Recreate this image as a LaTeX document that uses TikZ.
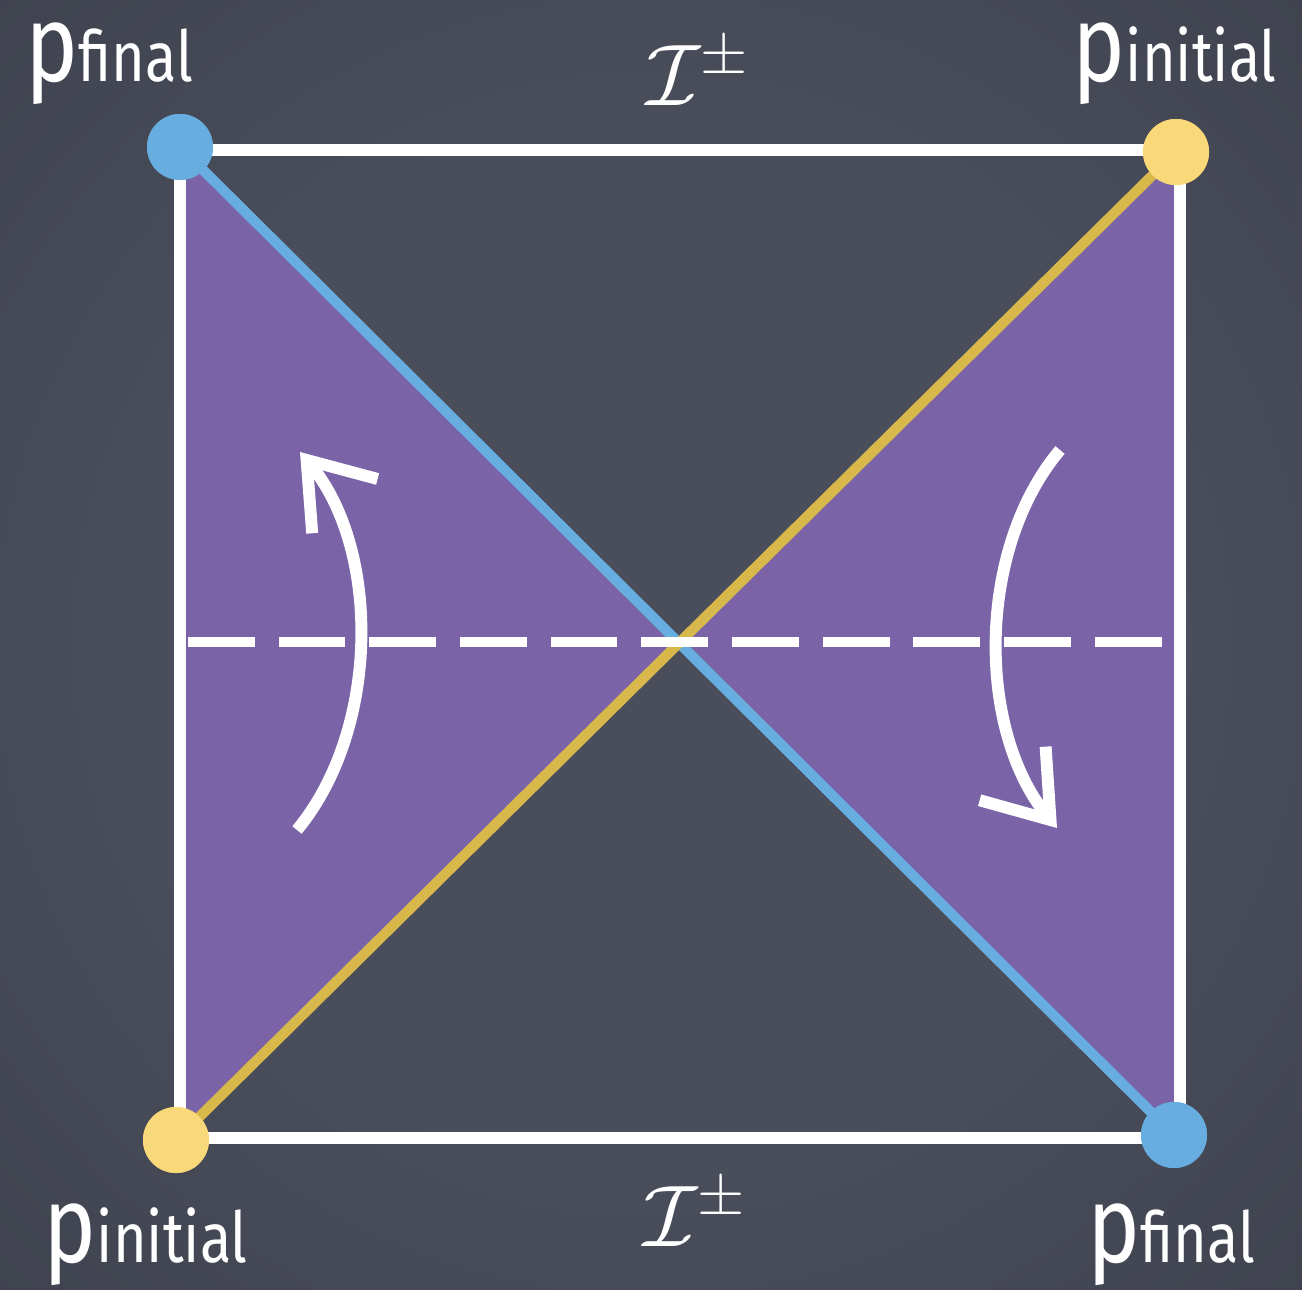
\documentclass[tikz,border=0pt]{standalone}
\usepackage{fontspec}
\newfontfamily\chalkfont[FakeStretch=0.82]{Fira Sans}
\usetikzlibrary{arrows.meta}
\definecolor{board}{HTML}{4A4E5B}
\definecolor{boardedge}{HTML}{363943}
\definecolor{boardcorner}{HTML}{2A2C33}
\definecolor{wedge}{HTML}{7A63A7}
\definecolor{nullblue}{HTML}{67ADE0}
\definecolor{nullyellow}{HTML}{D8B84B}
\definecolor{dotyellow}{HTML}{F8D878}
\pgfdeclareradialshading{boardshade}{\pgfpoint{0bp}{0bp}}{color(0bp)=(board); color(20bp)=(board); color(50bp)=(boardedge); color(71bp)=(boardcorner)}
\newcommand{\plab}[1]{{\chalkfont\fontsize{31}{31}\selectfont p}{\chalkfont\fontsize{20}{20}\selectfont #1}}

\begin{document}
\begin{tikzpicture}[
    chalk/.style={white, line width=3.4pt},
    nullray/.style={line width=2.9pt},
    blob/.style={circle, minimum size=6.6mm, inner sep=0pt},
    plabel/.style={text=white, inner sep=0pt, anchor=base west},
    scri/.style={text=white, inner sep=0pt, font=\fontsize{25}{30}\selectfont}
  ]
  \useasboundingbox (0,0) rectangle (13.02,12.89);

  % Board
  \shade[shading=boardshade] (0,0) rectangle (13.02,12.89);

  % Corners and crossing
  \coordinate (tl) at (1.80,11.39);
  \coordinate (tr) at (11.80,11.39);
  \coordinate (bl) at (1.80,1.51);
  \coordinate (br) at (11.80,1.51);
  \coordinate (x) at (6.80,6.47);

  % Wedges
  \fill[wedge] (1.83,11.39) -- (1.83,1.51) -- (x) -- cycle;
  \fill[wedge] (11.76,11.37) -- (11.76,1.54) -- (x) -- cycle;

  % Boundary
  \draw[chalk] (tl) -- (tr) -- (br) -- (bl) -- cycle;

  % Endpoints
  \node[blob, fill=nullblue] (ftop) at (1.80,11.42) {};
  \node[blob, fill=dotyellow] (itop) at (11.76,11.37) {};
  \node[blob, fill=dotyellow] (ibot) at (1.76,1.49) {};
  \node[blob, fill=nullblue] (fbot) at (11.74,1.54) {};

  % Null rays
  \draw[nullray, nullblue] (ftop.center) -- (fbot.center);
  \draw[nullray, nullyellow] (ibot.center) -- (itop.center);

  % Time slice
  \coordinate (sl) at (1.88,6.47);
  \coordinate (sr) at (11.72,6.47);
  \draw[white, line width=2.8pt, dash pattern=on 19pt off 6.8pt] (sl) -- (sr);

  % Flow arrows
  \draw[chalk, -{Straight Barb[length=6mm,width=8.5mm]}]
    (2.97,4.59) .. controls (3.805,5.6) and (3.805,7.4) .. (3.00,8.37);
  \draw[chalk, -{Straight Barb[length=6mm,width=8.5mm]}]
    (10.60,8.39) .. controls (9.765,7.4) and (9.765,5.6) .. (10.57,4.61);

  % Redraw dots on top
  \node[blob, fill=nullblue] at (ftop) {};
  \node[blob, fill=dotyellow] at (itop) {};
  \node[blob, fill=dotyellow] at (ibot) {};
  \node[blob, fill=nullblue] at (fbot) {};

  % Labels
  \node[plabel] (lftop) at (0.25,12.07) {\plab{final}};
  \node[plabel] (litop) at (10.72,12.07) {\plab{initial}};
  \node[plabel] (libot) at (0.43,0.27) {\plab{initial}};
  \node[plabel] (lfbot) at (10.87,0.27) {\plab{final}};
  \node[scri] (scritop) at (6.98,12.17) {$\mathcal{I}^{\pm}$};
  \node[scri] (scribot) at (6.95,0.76) {$\mathcal{I}^{\pm}$};
\end{tikzpicture}
\end{document}
